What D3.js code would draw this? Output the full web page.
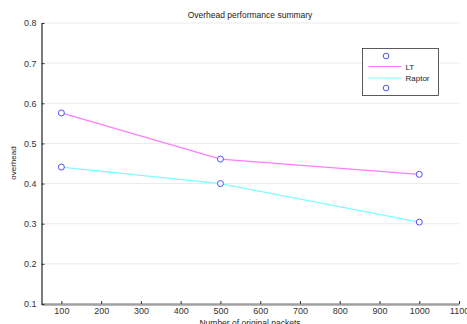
<!DOCTYPE html>
<html>
<head>
<meta charset="utf-8">
<script src="https://cdn.jsdelivr.net/npm/d3@7"></script>
<style>
  body { margin: 0; background: #fff; }
  svg { display: block; font-family: "Liberation Sans", Arial, sans-serif; }
</style>
</head>
<body>
<div id="chart"></div>
<script>
const packets = [100, 500, 1000];
const ltOverhead = [0.576, 0.461, 0.423];
const raptorOverhead = [0.441, 0.400, 0.304];
const xTicks = [100, 200, 300, 400, 500, 600, 700, 800, 900, 1000, 1100];
const yTicks = [0.1, 0.2, 0.3, 0.4, 0.5, 0.6, 0.7, 0.8];
const seriesNames = ["LT", "Raptor"];

const width = 467;
const height = 324;
const margin = { top: 23, right: 8, bottom: 20, left: 41.5 };

const svg = d3.select("#chart")
    .append("svg")
    .attr("width", width)
    .attr("height", height);

const x = d3.scaleLinear()
    .domain([50, 1100])
    .range([margin.left, width - margin.right]);

const y = d3.scaleLinear()
    .domain([0.1, 0.8])
    .range([height - margin.bottom, margin.top]);

// grid
svg.append("g")
    .selectAll("line")
    .data(yTicks)
    .enter()
    .append("line")
    .attr("x1", margin.left)
    .attr("x2", width - margin.right)
    .attr("y1", d => y(d))
    .attr("y2", d => y(d))
    .attr("stroke", "#ebebeb")
    .attr("stroke-width", 1);

// x axis
const xAxis = svg.append("g")
    .attr("transform", `translate(0,${height - margin.bottom})`)
    .call(d3.axisBottom(x).tickValues(xTicks).tickFormat(d3.format("d")).tickSizeInner(-3).tickSizeOuter(0).tickPadding(4));
xAxis.select(".domain").attr("stroke", "#a0a0a0").attr("stroke-width", 2.5);
xAxis.selectAll(".tick line").attr("stroke", "#333");
xAxis.selectAll("text").attr("font-size", 9).attr("fill", "#333");

// y axis
const yAxis = svg.append("g")
    .attr("transform", `translate(${margin.left},0)`)
    .call(d3.axisLeft(y).tickValues(yTicks).tickFormat(d3.format(".1f")).tickSizeInner(-3).tickSizeOuter(0).tickPadding(5));
yAxis.select(".domain").attr("stroke", "#222").attr("stroke-width", 1.2);
yAxis.selectAll(".tick line").attr("stroke", "#333");
yAxis.selectAll("text").attr("font-size", 9).attr("fill", "#333");

// lines
const line = d3.line()
    .x((d, i) => x(packets[i]))
    .y(d => y(d));

const series = [
    { name: seriesNames[0], values: ltOverhead, color: "#ff7cff" },
    { name: seriesNames[1], values: raptorOverhead, color: "#7cffff" }
];

series.forEach(s => {
    svg.append("path")
        .datum(s.values)
        .attr("fill", "none")
        .attr("stroke", s.color)
        .attr("stroke-width", 1.2)
        .attr("d", line);

    svg.append("g")
        .selectAll("circle")
        .data(s.values)
        .enter()
        .append("circle")
        .attr("cx", (d, i) => x(packets[i]))
        .attr("cy", d => y(d))
        .attr("r", 3)
        .attr("fill", "#fff")
        .attr("stroke", "#5050ff")
        .attr("stroke-width", 1);
});

// title and labels
svg.append("text")
    .attr("x", 250)
    .attr("y", 18)
    .attr("text-anchor", "middle")
    .attr("font-size", 8.5)
    .attr("fill", "#222")
    .text("Overhead performance summary");

svg.append("text")
    .attr("transform", "translate(16,163) rotate(-90)")
    .attr("text-anchor", "middle")
    .attr("font-size", 8)
    .attr("fill", "#222")
    .text("overhead");

svg.append("text")
    .attr("x", 250)
    .attr("y", 326)
    .attr("text-anchor", "middle")
    .attr("font-size", 8.5)
    .attr("fill", "#222")
    .text("Number of original packets");

// legend
const legend = svg.append("g").attr("transform", "translate(362.5,48.5)");
legend.append("rect")
    .attr("width", 76)
    .attr("height", 47)
    .attr("fill", "#fff")
    .attr("stroke", "#333")
    .attr("stroke-width", 0.8);

legend.append("circle")
    .attr("cx", 23.5).attr("cy", 7.5).attr("r", 2.8)
    .attr("fill", "none").attr("stroke", "#5050ff");
legend.append("circle")
    .attr("cx", 23.5).attr("cy", 39.5).attr("r", 2.8)
    .attr("fill", "none").attr("stroke", "#5050ff");

series.forEach((s, i) => {
    const ly = 18 + i * 11.5;
    legend.append("line")
        .attr("x1", 6).attr("x2", 39)
        .attr("y1", ly).attr("y2", ly)
        .attr("stroke", s.color)
        .attr("stroke-width", 1.2);
    legend.append("text")
        .attr("x", 43)
        .attr("y", ly + 3)
        .attr("font-size", 8)
        .attr("fill", "#222")
        .text(s.name);
});
</script>
</body>
</html>
